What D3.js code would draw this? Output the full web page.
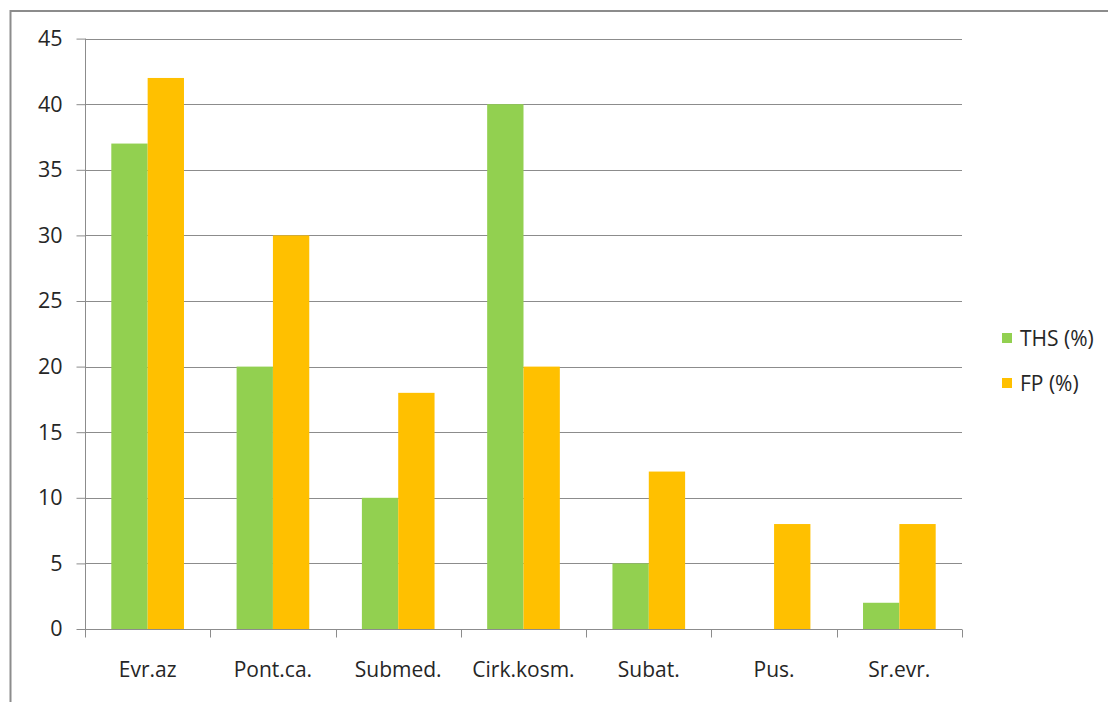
<!DOCTYPE html>
<html><head><meta charset="utf-8">
<script src="https://cdn.jsdelivr.net/npm/d3@7"></script>
<style>body{margin:0;background:#fff;}svg{display:block;font-family:"Open Sans",sans-serif;}</style>
</head><body>
<svg id="c" width="1108" height="702"></svg>
<script>
const categories = ["Evr.az","Pont.ca.","Submed.","Cirk.kosm.","Subat.","Pus.","Sr.evr."];
const thsValues = [37,20,10,40,5,0,2];
const fpValues = [42,30,18,20,12,8,8];
const seriesNames = ["THS (%)","FP (%)"];
const yTicks = [0,5,10,15,20,25,30,35,40,45];
const colors = ["#92D050","#FFC000"];

(function(){
const svg = d3.select("#c");
const txt = "#262626", fs = 21;
svg.append("rect").attr("x",10.5).attr("y",11).attr("width",1120).attr("height",720)
  .attr("fill","none").attr("stroke","#8c8c8c").attr("stroke-width",2);

const pL=85, pR=962, pT=38.6, pB=629;
const x = d3.scaleBand().domain(categories).range([pL,pR]).paddingInner(0.42).paddingOuter(0.21);
const x1 = d3.scaleBand().domain([0,1]).range([0,x.bandwidth()]);
const y = d3.scaleLinear().domain([0,45]).range([pB,pT]);

// gridlines
svg.append("g").selectAll("line").data(yTicks.filter(d=>d>0)).join("line")
  .attr("x1",pL).attr("x2",pR).attr("y1",d=>Math.round(y(d))+0.5).attr("y2",d=>Math.round(y(d))+0.5)
  .attr("stroke","#8c8c8c").attr("stroke-width",1);

// bars
const data = categories.map((c,i)=>({c, v:[thsValues[i],fpValues[i]]}));
const g = svg.append("g");
data.forEach(d=>{
  d.v.forEach((v,j)=>{
    g.append("rect").attr("x",x(d.c)+x1(j)).attr("width",x1.bandwidth())
      .attr("y",y(v)).attr("height",pB-y(v)).attr("fill",colors[j]);
  });
});

// y axis
const yAxis = d3.axisLeft(y).tickValues(yTicks).tickSize(9).tickPadding(14);
const ya = svg.append("g").attr("transform",`translate(${pL+0.5},0)`).call(yAxis);
ya.select(".domain").attr("stroke","#8c8c8c").attr("d",`M0,${pT}V${pB}`);
ya.selectAll(".tick line").attr("stroke","#8c8c8c");
ya.selectAll("text").attr("font-size",21.5).attr("fill",txt).attr("font-family","'Open Sans',sans-serif");

// x axis
const xa = svg.append("g").attr("transform",`translate(0,${Math.round(pB)+0.5})`);
xa.append("line").attr("x1",pL).attr("x2",pR).attr("stroke","#8c8c8c");
const bounds = categories.map((c,i)=>pL + i*(pR-pL)/categories.length).concat([pR]);
xa.selectAll("line.t").data(bounds).join("line").attr("class","t")
  .attr("x1",d=>Math.round(d)+0.5).attr("x2",d=>Math.round(d)+0.5).attr("y1",0).attr("y2",8).attr("stroke","#8c8c8c");
xa.selectAll("text").data(categories).join("text")
  .attr("x",d=>x(d)+x.bandwidth()/2).attr("y",47.5).attr("text-anchor","middle")
  .attr("font-size",fs).attr("fill",txt).text(d=>d);

// legend
const lg = svg.append("g");
seriesNames.forEach((n,i)=>{
  lg.append("rect").attr("x",1002).attr("y",333+i*45).attr("width",10).attr("height",10).attr("fill",colors[i]);
  lg.append("text").attr("x",1020).attr("y",345.5+i*45).attr("font-size",fs).attr("fill",txt).text(n);
});
})();
</script>
</body></html>
